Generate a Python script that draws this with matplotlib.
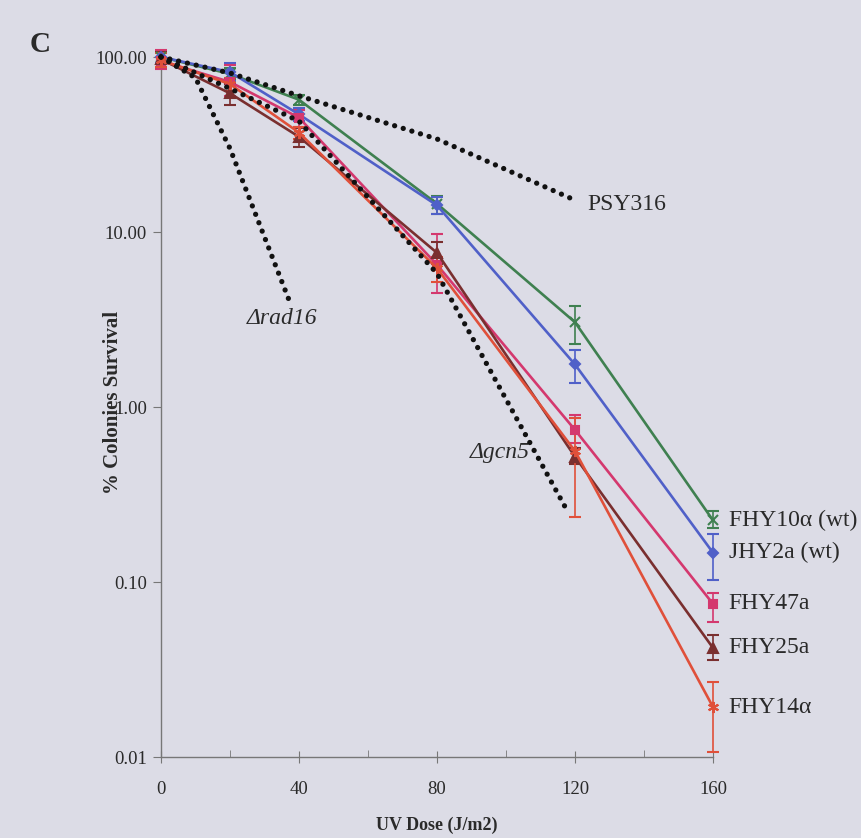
import numpy as np
import matplotlib
matplotlib.use('Agg')
import matplotlib.pyplot as plt
from matplotlib.ticker import FixedLocator, FixedFormatter

plt.rcParams['font.family'] = ['Liberation Serif', 'DejaVu Serif']

dose = [0, 20, 40, 80, 120, 160]

# strain: (values, lower err, upper err)
fhy10_val = [100, 80, 57, 14.5, 3.05, 0.225]
fhy10_lo = [8, 6, 4, 1.8, 0.75, 0.022]
fhy10_hi = [8, 6, 4, 1.6, 0.75, 0.030]

jhy2_val = [100, 82, 47, 14.2, 1.75, 0.147]
jhy2_lo = [8, 9, 4, 1.6, 0.38, 0.045]
jhy2_hi = [8, 10, 4, 1.6, 0.37, 0.040]

fhy47_val = [95, 72, 45, 6.5, 0.74, 0.075]
fhy47_lo = [10, 12, 5, 2.0, 0.12, 0.016]
fhy47_hi = [14, 18, 5, 3.2, 0.16, 0.011]

fhy25_val = [97, 62, 35, 7.6, 0.52, 0.042]
fhy25_lo = [9, 9, 4.5, 1.0, 0.05, 0.006]
fhy25_hi = [10, 8, 4.5, 1.2, 0.06, 0.008]

fhy14_val = [96, 70, 37, 6.2, 0.56, 0.0193]
fhy14_lo = [8, 6, 3, 1.0, 0.325, 0.0086]
fhy14_hi = [10, 6, 3, 1.0, 0.30, 0.0077]

# dotted reference strains
psy316_x = [0, 20, 40, 80, 120]
psy316_y = [100, 81, 60, 34, 15.2]
rad16_x = [0, 10, 20, 37.5]
rad16_y = [100, 76, 30, 3.9]
gcn5_x = [0, 20, 40, 80, 118]
gcn5_y = [100, 66, 43, 5.8, 0.25]

series = [
    ('FHY10\u03b1 (wt)', fhy10_val, fhy10_lo, fhy10_hi, '#3f8050', 'x', 7),
    ('JHY2a (wt)', jhy2_val, jhy2_lo, jhy2_hi, '#5060c8', 'D', 5),
    ('FHY47a', fhy47_val, fhy47_lo, fhy47_hi, '#d4386e', 's', 5.5),
    ('FHY25a', fhy25_val, fhy25_lo, fhy25_hi, '#7a2f2f', '^', 6.5),
    ('FHY14\u03b1', fhy14_val, fhy14_lo, fhy14_hi, '#e0503a', (6, 2, 0), 8),
]

bg = '#dcdce6'
fig = plt.figure(figsize=(8.62, 8.38), dpi=100, facecolor=bg)
ax = fig.add_axes([161 / 862, 1 - 757 / 838, (713 - 161) / 862, (757 - 57) / 838])
ax.set_facecolor(bg)

for name, v, lo, hi, col, mk, ms in series:
    ax.errorbar(dose, v, yerr=[lo, hi], color=col, lw=1.9, marker=mk, ms=ms,
                mew=1.5, elinewidth=1.2, capsize=4.5, capthick=1.2, clip_on=False, zorder=3)
    ax.text(164.5, v[-1], name, fontsize=17, color='#2a2a2a', va='center', ha='left')

dot = dict(color='#111111', lw=3.8, linestyle=(0, (0.01, 1.7)), dash_capstyle='round', zorder=5,
           clip_on=False)
ax.plot(psy316_x, psy316_y, **dot)
ax.plot(rad16_x, rad16_y, **dot)
ax.plot(gcn5_x, gcn5_y, **dot)

ax.text(123.5, 14.3, 'PSY316', fontsize=17, color='#2a2a2a', va='center', ha='left')
ax.text(25, 3.2, '\u0394rad16', fontsize=17, style='italic', color='#2a2a2a', va='center', ha='left')
ax.text(89.5, 0.55, '\u0394gcn5', fontsize=17, style='italic', color='#2a2a2a', va='center', ha='left')

ax.set_yscale('log')
ax.set_ylim(0.01, 100)
ax.set_xlim(0, 160)
ax.yaxis.set_major_locator(FixedLocator([0.01, 0.1, 1, 10, 100]))
ax.yaxis.set_major_formatter(FixedFormatter(['0.01', '0.10', '1.00', '10.00', '100.00']))
ax.yaxis.set_minor_locator(FixedLocator([]))
ax.set_xticks([0, 40, 80, 120, 160])
ax.set_xticks([20, 60, 100, 140], minor=True)

for s in ['top', 'right']:
    ax.spines[s].set_visible(False)
for s in ['left', 'bottom']:
    ax.spines[s].set_color('#777777')
    ax.spines[s].set_linewidth(1.0)

ax.tick_params(axis='y', which='major', length=6, color='#777777', labelsize=13.5,
               labelcolor='#2a2a2a', pad=4)
ax.tick_params(axis='x', which='major', direction='inout', length=9, color='#777777',
               labelsize=13.5, labelcolor='#2a2a2a', pad=13)
ax.tick_params(axis='x', which='minor', direction='in', length=5, color='#777777')

ax.set_ylabel('% Colonies Survival', fontsize=15, fontweight='bold', color='#2a2a2a')
ax.yaxis.set_label_coords(-0.068, 0.507)
ax.set_xlabel('UV Dose (J/m2)', fontsize=13, fontweight='bold', color='#2a2a2a')
ax.xaxis.set_label_coords(0.5, -0.085)

fig.text(30 / 862, 1 - 45 / 838, 'C', fontsize=21, fontweight='bold', color='#2a2a2a',
         ha='left', va='center')

fig.savefig('out.png', dpi=100, facecolor=bg)
